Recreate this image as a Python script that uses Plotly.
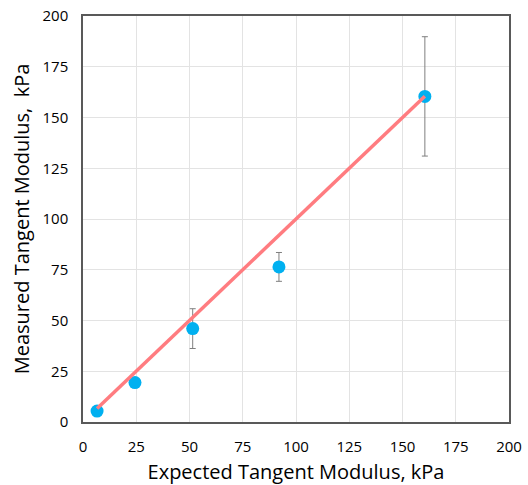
import plotly.graph_objects as go

expected = [6.6, 24.4, 51.5, 92.0, 160.5]
measured = [5.4, 19.4, 46.0, 76.4, 160.4]
err = [0, 0, 9.8, 7.1, 29.4]
fit_x = [6.6, 160.5]
fit_y = [6.6, 160.5]
ticks = [0, 25, 50, 75, 100, 125, 150, 175, 200]

fig = go.Figure()
fig.add_trace(go.Scatter(
    x=expected, y=measured, mode="markers",
    marker=dict(color="#00B0F0", size=13),
    error_y=dict(type="data", array=err, visible=True, color="#7f7f7f", thickness=1, width=3),
    showlegend=False))
fig.add_trace(go.Scatter(
    x=fit_x, y=fit_y, mode="lines",
    line=dict(color="#FF7C80", width=3.5), showlegend=False))

axis_common = dict(range=[0, 200], tickvals=ticks, showgrid=True, gridcolor="#e3e3e3", gridwidth=1,
                   showline=True, linecolor="#595959", linewidth=1.5, mirror=True, ticks="",
                   zeroline=False, automargin=False, ticklabeloverflow="allow",
                   tickfont=dict(size=15, color="#000"))
fig.update_xaxes(**axis_common, ticklabelstandoff=10,
                 title=dict(text="Expected Tangent Modulus, kPa", font=dict(size=20, color="#000"), standoff=18))
fig.update_yaxes(**axis_common, ticklabelstandoff=10,
                 title=dict(text="Measured Tangent Modulus,  kPa", font=dict(size=20, color="#000"), standoff=8))

fig.update_layout(width=528, height=485, margin=dict(l=83, r=19, t=16, b=63),
                  plot_bgcolor="white", paper_bgcolor="white",
                  font=dict(family="Open Sans, sans-serif"))
fig.write_html("out.html", config={"displayModeBar": False},
               post_script="document.body.style.margin='0';")
